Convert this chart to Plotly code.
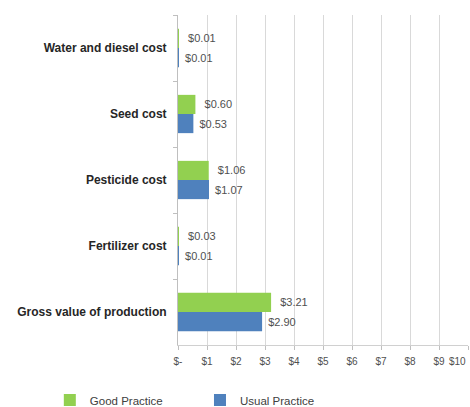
import plotly.graph_objects as go

categories = ["Water and diesel cost", "Seed cost", "Pesticide cost", "Fertilizer cost", "Gross value of production"]
good_practice = [0.01, 0.60, 1.06, 0.03, 3.21]
usual_practice = [0.01, 0.53, 1.07, 0.01, 2.90]
tick_vals = [0, 1, 2, 3, 4, 5, 6, 7, 8, 9, 10]
tick_text = ["$-", "$1", "$2", "$3", "$4", "$5", "$6", "$7", "$8", "$9", "$10"]

fig = go.Figure()
fig.add_trace(go.Bar(
    y=categories, x=good_practice, orientation="h", name="Good Practice",
    marker=dict(color="#92D050", line=dict(width=0)),
    text=[f"\u00a0\u00a0${v:.2f}" for v in good_practice], textposition="outside",
    textfont=dict(size=11, color="#505050", family="Liberation Sans"),
    cliponaxis=False, legend="legend",
))
fig.add_trace(go.Bar(
    y=categories, x=usual_practice, orientation="h", name="Usual Practice",
    marker=dict(color="#4F81BD", line=dict(width=0)),
    text=[f"\u00a0${v:.2f}" for v in usual_practice], textposition="outside",
    textfont=dict(size=11, color="#505050", family="Liberation Sans"),
    cliponaxis=False, legend="legend2",
))

legend_style = dict(orientation="h", xref="container", yref="container", y=0.017,
                    yanchor="middle", xanchor="left", font=dict(size=11.5, color="#404040"),
                    itemwidth=30, bgcolor="rgba(0,0,0,0)")
fig.update_layout(
    width=470, height=407,
    margin=dict(l=178, r=2, t=15, b=62, autoexpand=False),
    barmode="group", bargap=0.42, bargroupgap=0,
    plot_bgcolor="white", paper_bgcolor="white",
    font=dict(family="Liberation Sans", size=10, color="#404040"),
    showlegend=True,
    legend=dict(x=0.106, **legend_style),
    legend2=dict(x=0.4255, **legend_style),
    uniformtext=dict(minsize=9, mode="show"),
)
fig.update_xaxes(
    range=[0, 10], tickvals=tick_vals, ticktext=tick_text,
    showgrid=True, gridcolor="#D9D9D9", gridwidth=1,
    ticks="outside", ticklen=4, tickcolor="#BFBFBF", ticklabelstandoff=3,
    showline=True, linecolor="#D0D0D0", linewidth=1, zeroline=False,
    tickfont=dict(size=10, color="#505050"),
)
fig.update_yaxes(
    categoryorder="array", categoryarray=categories, autorange="reversed",
    showline=True, linecolor="#BFBFBF", linewidth=1,
    ticks="outside", ticklen=4, tickcolor="#BFBFBF", tickson="boundaries",
    ticklabelstandoff=8,
    tickfont=dict(size=12, color="#262626", family="Liberation Sans", weight="bold"),
    showgrid=False,
)
fig.add_annotation(
    x=tick_vals[-1], xref="x", y=0, yref="paper", yanchor="top", xanchor="right",
    yshift=-9, text=tick_text[-1], showarrow=False, font=dict(size=10, color="#505050"),
)
fig.write_html("out.html")
